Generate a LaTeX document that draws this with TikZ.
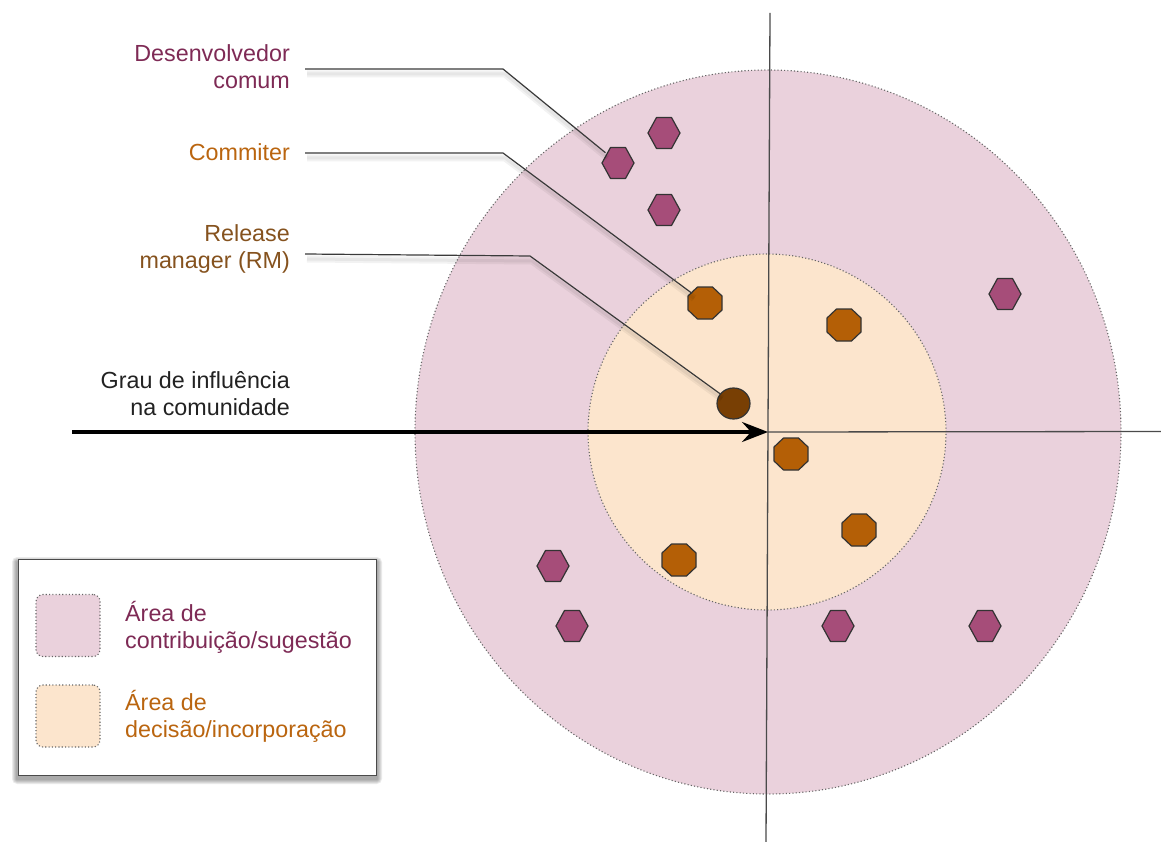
\documentclass[tikz,border=0pt]{standalone}
\usepackage{fontspec}
\setmainfont{Liberation Sans}
\usetikzlibrary{arrows.meta,shapes.geometric,calc}
\definecolor{outerfill}{HTML}{EAD1DC}
\definecolor{innerfill}{HTML}{FCE5CD}
\definecolor{hexfill}{HTML}{A64D79}
\definecolor{octfill}{HTML}{B45F06}
\definecolor{rmfill}{HTML}{783F04}
\definecolor{shapeline}{HTML}{333333}
\definecolor{dotline}{HTML}{666666}
\definecolor{axisline}{HTML}{4A4A4A}
\definecolor{callline}{HTML}{3A3A3A}
\definecolor{txtpink}{HTML}{7E2A55}
\definecolor{txtorange}{HTML}{BA650F}
\definecolor{txtbrown}{HTML}{85521E}
\definecolor{txtdark}{HTML}{222222}
\newcommand\hexat[2]{%
  \node[anchorpt] (#1) at (#2) {};
  \draw[hexst, shift={(#2)}] (-16,0) -- (-7.5,-15.5) -- (7.5,-15.5) -- (16,0) -- (7.5,15.5) -- (-7.5,15.5) -- cycle;}
\newcommand\octat[2]{%
  \node[anchorpt] (#1) at (#2) {};
  \draw[octst, shift={(#2)}] (-17,-7) -- (-7.5,-16) -- (7.5,-16) -- (17,-7) -- (17,7) -- (7.5,16) -- (-7.5,16) -- (-17,7) -- cycle;}
\begin{document}
\begin{tikzpicture}[x=1pt,y=-1pt,
  big/.style={font=\fontsize{23.3}{27}\selectfont, inner sep=0pt},
  lblr/.style={big, align=right, anchor=east},
  lbll/.style={big, align=left, anchor=west},
  dotborder/.style={draw=dotline, line width=1.1pt, dash pattern=on 1.1pt off 2.2pt},
  zone/.style={ellipse, inner sep=0pt, dotborder},
  swatch/.style={rectangle, rounded corners=7pt, inner sep=0pt, minimum width=64pt, minimum height=62pt, dotborder},
  axis/.style={draw=axisline, line width=1.3pt},
  bigarrow/.style={draw=black, line width=3.5pt, -{Stealth[length=26pt,width=20pt,inset=9pt]}},
  anchorpt/.style={circle, minimum size=32pt, inner sep=0pt},
  hexst/.style={fill=hexfill, draw=shapeline, line width=1.2pt, line join=round},
  octst/.style={fill=octfill, draw=shapeline, line width=1.2pt, line join=round},
  callout/.style={draw=callline, line width=1.2pt},
  cshadow/.style={draw=black, opacity=0.05, line width=7pt, line join=round, transform canvas={xshift=2pt,yshift=-5pt}},
  cshadowb/.style={draw=black, opacity=0.05, line width=3pt, line join=round, transform canvas={xshift=2pt,yshift=-5pt}}
]
\useasboundingbox (0,0) rectangle (1161,842);

% zones
\node[zone, fill=outerfill, minimum width=706pt, minimum height=724pt] (outer) at (768,432) {};
\node[zone, fill=innerfill, minimum width=358pt, minimum height=356pt] (inner) at (767,432) {};

% axes
\coordinate (ctr) at (768,432);
\coordinate (vtop) at (770,13);
\coordinate (vbot) at (766,842);
\coordinate (hend) at (1161,431.5);
\coordinate (astart) at (72,432);
\draw[axis] (vtop) -- (vbot);
\draw[axis] (ctr) -- (hend);
\draw[bigarrow] (astart) -- (ctr);

% developers
\hexat{h1}{618,163}
\hexat{h2}{664,133}
\hexat{h3}{664,210}
\hexat{h4}{1005,294}
\hexat{h5}{553,566}
\hexat{h6}{572,626}
\hexat{h7}{838,626}
\hexat{h8}{985,626}

% commiters
\octat{o1}{705,303}
\octat{o2}{844,325}
\octat{o3}{791,454}
\octat{o4}{859,530}
\octat{o5}{679,560}

% release manager
\node[ellipse, minimum width=33pt, minimum height=31pt, inner sep=0pt, fill=rmfill, draw=shapeline, line width=1.2pt] (rm) at (733.5,403.5) {};

% labels
\node[lblr, text=txtpink] (ldev) at (290,67) {Desenvolvedor\\comum};
\node[lblr, text=txtorange] (lcom) at (290,152) {Commiter};
\node[lblr, text=txtbrown] (lrm) at (290,249) {Release\\manager (RM)};
\node[lblr, text=txtdark] (lgrau) at (290,394) {Grau de influência\\na comunidade};

% callouts
\coordinate (kdev) at (503,69);
\coordinate (kcom) at (503,153);
\coordinate (krm) at (530,256);
\foreach \s in {cshadow,cshadowb}{
  \draw[\s] ($(ldev.east)+(15,2)$) -- (kdev) -- (h1);
  \draw[\s] ($(lcom.east)+(15,1)$) -- (kcom) -- (o1);
  \draw[\s] ($(lrm.east)+(15,5)$) -- (krm) -- (rm);
}
\draw[callout] ($(ldev.east)+(15,2)$) -- (kdev) -- (h1);
\draw[callout] ($(lcom.east)+(15,1)$) -- (kcom) -- (o1);
\draw[callout] ($(lrm.east)+(15,5)$) -- (krm) -- (rm);

% legend
\foreach \i in {1,...,5}{
  \fill[black, opacity=0.08, rounded corners=\i pt] ({17-\i},{562-\i}) rectangle ({377+\i},{779+\i});
}
\node[rectangle, draw=axisline, line width=1.2pt, fill=white, minimum width=358pt, minimum height=216pt, inner sep=0pt] (legend) at (197.5,667.5) {};
\node[swatch, fill=outerfill] (sw1) at (68,625.5) {};
\node[swatch, fill=innerfill] (sw2) at (68,716) {};
\node[lbll, text=txtpink] (lt1) at (125,627) {Área de\\contribuição/sugestão};
\node[lbll, text=txtorange] (lt2) at (125,716) {Área de\\decisão/incorporação};
\end{tikzpicture}
\end{document}
